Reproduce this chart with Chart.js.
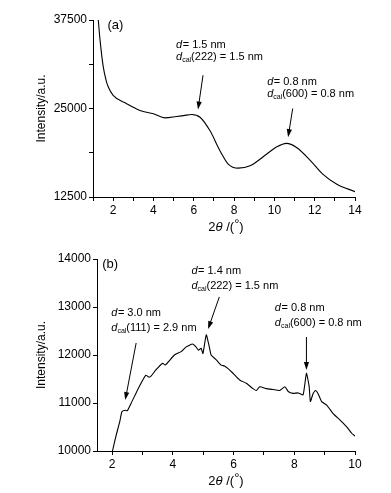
<!DOCTYPE html>
<html>
<head>
<meta charset="utf-8">
<script src="https://cdn.jsdelivr.net/npm/chart.js@4.4.1/dist/chart.umd.min.js"></script>
<style>
  body { margin: 0; background: #fff; }
  #wrap { position: relative; width: 391px; height: 493px; }
  canvas { position: absolute; left: 0; }
</style>
</head>
<body>
<div id="wrap">
  <canvas id="chartA" width="391" height="240" style="top:0"></canvas>
  <canvas id="chartB" width="391" height="253" style="top:240px"></canvas>
</div>
<script>
// panel (a)
const anglesA = [1.15, 1.26, 1.35, 1.51, 1.65, 1.76, 2.0, 2.67, 3.33, 4.0, 4.57, 5.15, 5.5, 5.9, 6.31, 6.8, 7.3, 7.71, 8.21, 8.79, 9.62, 10.1, 10.6, 11.1, 11.8, 12.4, 13.1, 14.0];
const intensityA = [40000, 37500, 34660, 30870, 28980, 28030, 26850, 25670, 24720, 24250, 23680, 23870, 24000, 24150, 23770, 21880, 19040, 17150, 16580, 16900, 18570, 19550, 20080, 19500, 17610, 15730, 14300, 13260];
const xTicksA = [1, 2, 3, 4, 5, 6, 7, 8, 9, 10, 11, 12, 13, 14];
const yTicksA = [12500, 18750, 25000, 31250, 37500];
const yLabelsA = [12500, 25000, 37500];

// panel (b)
const anglesB = [1.95, 2.01, 2.12, 2.25, 2.32, 2.43, 2.5, 2.62, 2.89, 3.11, 3.2, 3.28, 3.44, 3.66, 3.75, 4.05, 4.27, 4.44, 4.65, 4.76, 4.84, 4.93, 4.99, 5.1, 5.2, 5.26, 5.43, 5.59, 5.7, 5.81, 5.98, 6.2, 6.42, 6.64, 6.75, 6.86, 7.08, 7.3, 7.52, 7.69, 7.8, 7.96, 8.13, 8.29, 8.4, 8.49, 8.53, 8.62, 8.7, 8.78, 8.9, 9.06, 9.28, 9.5, 9.72, 9.89, 10.0];
const intensityB = [9800, 10000, 10300, 10610, 10820, 10850, 10840, 10990, 11340, 11580, 11540, 11560, 11690, 11830, 11790, 12000, 12070, 12170, 12230, 12170, 12100, 12140, 12030, 12420, 12170, 12000, 11900, 11790, 11770, 11720, 11620, 11480, 11410, 11300, 11260, 11340, 11300, 11280, 11260, 11340, 11240, 11200, 11210, 11170, 11620, 11340, 11030, 11200, 11260, 11200, 11030, 10960, 10780, 10650, 10510, 10370, 10310];
const xTicksB = [2, 3, 4, 5, 6, 7, 8, 9, 10];
const yTicksB = [10000, 11000, 12000, 13000, 14000];
const yLabelsB = [10000, 11000, 12000, 13000, 14000];

// annotations: text anchor (tx, ty) and arrow from (ax1, ay1) to (ax2, ay2) in data units
const notesA = [
  { d: '1.5 nm', hkl: '(222) = 1.5 nm', tx: 5.12, ty: 34000, ax1: 6.46, ay1: 29700, ax2: 6.21, ay2: 24860 },
  { d: '0.8 nm', hkl: '(600) = 0.8 nm', tx: 9.64, ty: 28800, ax1: 10.91, ay1: 25000, ax2: 10.68, ay2: 20950 }
];
const notesB = [
  { d: '3.0 nm', hkl: '(111) = 2.9 nm', tx: 1.97, ty: 12875, ax1: 2.79, ay1: 12250, ax2: 2.43, ay2: 11060 },
  { d: '1.4 nm', hkl: '(222) = 1.5 nm', tx: 4.61, ty: 13750, ax1: 5.53, ay1: 13210, ax2: 5.16, ay2: 12540 },
  { d: '0.8 nm', hkl: '(600) = 0.8 nm', tx: 7.36, ty: 12980, ax1: 8.40, ay1: 12375, ax2: 8.40, ay2: 11690 }
];

const FONT = 'Liberation Sans, Arial, sans-serif';

function arrow(ctx, x1, y1, x2, y2) {
  const ang = Math.atan2(y2 - y1, x2 - x1);
  ctx.beginPath();
  ctx.moveTo(x1, y1);
  ctx.lineTo(x2 - 5 * Math.cos(ang), y2 - 5 * Math.sin(ang));
  ctx.stroke();
  ctx.beginPath();
  ctx.moveTo(x2, y2);
  ctx.lineTo(x2 - 8 * Math.cos(ang) + 2.6 * Math.sin(ang), y2 - 8 * Math.sin(ang) - 2.6 * Math.cos(ang));
  ctx.lineTo(x2 - 8 * Math.cos(ang) - 2.6 * Math.sin(ang), y2 - 8 * Math.sin(ang) + 2.6 * Math.cos(ang));
  ctx.closePath();
  ctx.fill();
}

function makeDecor(label, labelPos, notes, lineGap) {
  return {
    id: 'decor',
    afterDraw(chart) {
      const { ctx, chartArea, scales } = chart;
      const sx = v => scales.x.getPixelForValue(v);
      const sy = v => scales.y.getPixelForValue(v);
      ctx.save();
      ctx.fillStyle = '#000';
      ctx.strokeStyle = '#000';
      ctx.lineWidth = 1;
      ctx.textBaseline = 'middle';

      // panel label
      ctx.font = '13px ' + FONT;
      ctx.textAlign = 'left';
      ctx.fillText(label, sx(labelPos[0]), sy(labelPos[1]));

      // y title
      ctx.save();
      ctx.translate(42, (chartArea.top + chartArea.bottom) / 2);
      ctx.rotate(-Math.PI / 2);
      ctx.textAlign = 'center';
      ctx.font = '12px ' + FONT;
      ctx.fillText('Intensity/a.u.', 0, 0);
      ctx.restore();

      // x title: 2θ/(°)
      const parts = [['2', '13px '], ['\u03b8', 'italic 13px '], [' /(', '13px '], ['\u00b0', '13px '], [')', '13px ']];
      let w = 0;
      parts.forEach(p => { ctx.font = p[1] + FONT; w += ctx.measureText(p[0]).width; });
      let x = 226 - w / 2;
      const ty = chartArea.bottom + 30;
      parts.forEach(p => {
        ctx.font = p[1] + FONT;
        ctx.fillText(p[0], x, p[0] === '\u00b0' ? ty - 3 : ty);
        x += ctx.measureText(p[0]).width;
      });

      // annotations
      notes.forEach(n => {
        const px = sx(n.tx), py = sy(n.ty);
        ctx.font = 'italic 11px ' + FONT;
        ctx.fillText('d', px, py);
        let dw = ctx.measureText('d').width;
        ctx.font = '11px ' + FONT;
        ctx.fillText('= ' + n.d, px + dw + 0.5, py);
        const py2 = py + lineGap;
        ctx.font = 'italic 11px ' + FONT;
        ctx.fillText('d', px, py2);
        ctx.font = '7px ' + FONT;
        ctx.fillText('cal', px + dw, py2 + 3);
        const cw = ctx.measureText('cal').width;
        ctx.font = '11px ' + FONT;
        ctx.fillText(n.hkl, px + dw + cw, py2);
        arrow(ctx, sx(n.ax1), sy(n.ay1), sx(n.ax2), sy(n.ay2));
      });
      ctx.restore();
    }
  };
}

function makeChart(id, xs, ys, cfg) {
  const points = xs.map((v, i) => ({ x: v, y: ys[i] }));
  return new Chart(document.getElementById(id), {
    type: 'line',
    data: {
      datasets: [{
        data: points,
        borderColor: '#000',
        borderWidth: 1.1,
        pointRadius: 0,
        tension: cfg.tension,
        cubicInterpolationMode: cfg.mode
      }]
    },
    options: {
      responsive: false,
      animation: false,
      events: [],
      layout: { padding: { top: cfg.top, right: 36, left: 0, bottom: 0 } },
      plugins: { legend: { display: false }, tooltip: { enabled: false } },
      scales: {
        x: {
          type: 'linear',
          min: cfg.xmin, max: cfg.xmax,
          afterFit: s => { s.height = cfg.xh; },
          afterBuildTicks: s => { s.ticks = cfg.xTicks.map(v => ({ value: v })); },
          ticks: {
            autoSkip: false,
            maxRotation: 0,
            padding: 2,
            color: '#000',
            font: { family: FONT, size: 12 },
            callback: v => (v % 2 === 0) ? v : ''
          },
          grid: { drawOnChartArea: false, tickLength: 4, color: '#000' },
          border: { color: '#000', width: 1 }
        },
        y: {
          min: cfg.ymin, max: cfg.ymax,
          afterFit: s => { s.width = cfg.yw; },
          afterBuildTicks: s => { s.ticks = cfg.yTicks.map(v => ({ value: v })); },
          ticks: {
            autoSkip: false,
            padding: 2,
            color: '#000',
            font: { family: FONT, size: 12 },
            callback: v => cfg.yLabels.includes(v) ? v : ''
          },
          grid: { drawOnChartArea: false, tickLength: 4, color: '#000' },
          border: { color: '#000', width: 1 }
        }
      }
    },
    plugins: [makeDecor(cfg.label, cfg.labelPos, cfg.notes, cfg.gap)]
  });
}

makeChart('chartA', anglesA, intensityA, {
  tension: 0.4, mode: 'monotone',
  xmin: 1, xmax: 14, ymin: 12500, ymax: 37500,
  xTicks: xTicksA, yTicks: yTicksA, yLabels: yLabelsA,
  top: 20, xh: 43, yw: 93,
  label: '(a)', labelPos: [1.72, 36700], notes: notesA, gap: 12
});

makeChart('chartB', anglesB, intensityB, {
  tension: 0.15, mode: 'default',
  xmin: 1.5, xmax: 10, ymin: 10000, ymax: 14000,
  xTicks: xTicksB, yTicks: yTicksB, yLabels: yLabelsB,
  top: 19, xh: 42, yw: 97,
  label: '(b)', labelPos: [1.67, 13880], notes: notesB, gap: 15
});
</script>
</body>
</html>
